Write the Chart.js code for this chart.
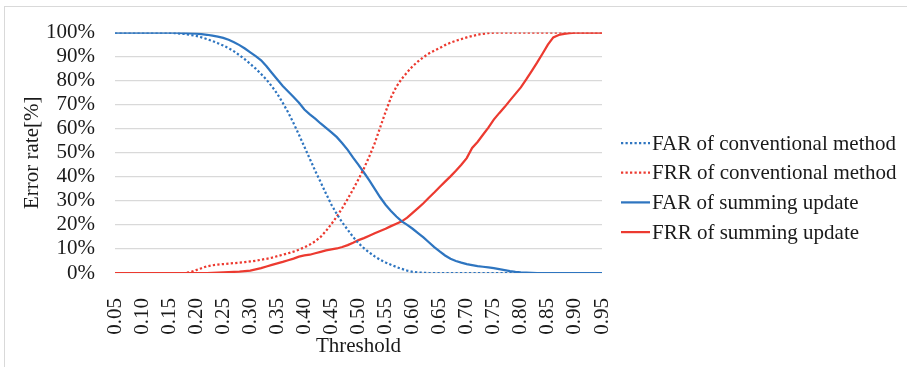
<html>
<head>
<script src="https://cdn.jsdelivr.net/npm/chart.js@4.4.0/dist/chart.umd.min.js"></script>
<style>
  body { margin: 0; background: #fff; }
  #frame { position: absolute; left: 4px; top: 6px; width: 910px; height: 370px; border: 1px solid #d9d9d9; }
  #wrap { position: absolute; left: 0; top: 0; width: 907px; height: 367px; }
</style>
</head>
<body>
<div id="frame"></div>
<div id="wrap"><canvas id="line-chart" width="907" height="367"></canvas></div>

<script>
// thresholds 0.05 .. 0.95 in steps of 0.01
var thresholds = []
for (var i = 5; i <= 95; i++) thresholds.push(i / 100)

var seriesNames = ["FAR of conventional method", "FRR of conventional method", "FAR of summing update", "FRR of summing update"]

var farConv = [100,100,100,100,100,100,100,100,100,100,100,
  99.8,99.6,99.4,99.0,98.6, 98.0,97.3,96.5,95.6,94.6, 93.5,92.2,90.6,88.9,87.0,
  85.0,82.8,80.4,77.6,74.5, 70.8,66.8,62.3,57.5,52.5, 47.5,42.5,37.8,33.0,28.4,
  24.5,21.0,18.0,15.0,12.4, 10.3,8.5,6.9,5.5,4.4, 3.4,2.5,1.7,1.0,0.5,
  0.2,0.1,0,0,0, 0,0,0,0,0, 0,0,0,0,0, 0,0,0,0,0, 0,0,0,0,0, 0,0,0,0,0, 0,0,0,0,0]

var frrConv = [0,0,0,0,0,0,0,0,0,0,0,
  0,0,0,0.4,1.2, 2.0,2.8,3.2,3.5,3.7, 3.9,4.1,4.3,4.5,4.8,
  5.1,5.5,5.9,6.4,7.0, 7.6,8.2,8.9,9.7,10.7, 11.8,13.2,15.0,17.5,20.4,
  23.5,27.0,30.8,34.8,39.0, 43.5,48.5,54.0,60.5,67.0, 73.0,77.5,80.8,83.5,86.0,
  88.0,89.8,91.3,92.5,93.6, 94.8,95.8,96.6,97.3,98.0, 98.6,99.1,99.5,99.8,100,
  100,100,100,100,100, 100,100,100,100,100, 100,100,100,100,100, 100,100,100,100,100]

var farSum = [100,100,100,100,100,100,100,100,100,100,100,
  100,99.9,99.8,99.7,99.6, 99.4,99.1,98.7,98.3,97.8, 97.0,96.0,94.8,93.4,91.8,
  90.2,88.5,86.0,83.2,80.5, 77.8,75.5,73.2,70.8,68.0, 66.0,64.2,62.2,60.4,58.5,
  56.5,54.0,51.2,48.0,45.0, 41.8,38.5,35.0,31.5,28.4, 25.8,23.5,21.5,20.0,18.4,
  16.6,14.8,12.8,10.8,9.0, 7.3,5.9,5.0,4.3,3.7, 3.3,2.9,2.6,2.3,2.0,
  1.6,1.2,0.8,0.5,0.3, 0.2,0.1,0,0,0, 0,0,0,0,0, 0,0,0,0,0]

var frrSum = [0,0,0,0,0,0,0,0,0,0,0,
  0,0,0,0,0, 0,0,0.1,0.2,0.3, 0.4,0.5,0.6,0.8,1.0,
  1.5,2.0,2.7,3.4,4.0, 4.6,5.3,6.0,6.8,7.3, 7.6,8.2,8.8,9.4,9.8,
  10.2,10.8,11.6,12.6,13.7, 14.5,15.5,16.5,17.5,18.4, 19.5,20.5,21.5,23.0,25.0,
  27.0,29.0,31.3,33.5,35.8, 38.0,40.2,42.5,45.0,47.8, 52.0,54.5,57.5,60.5,63.8,
  66.5,69.0,71.8,74.5,77.2, 80.5,84.0,87.5,91.2,95.0, 98.0,99.0,99.5,99.8,100,
  100,100,100,100,100]

var BLUE = "#2E75C0"
var RED = "#EC3A30"
var FONT = "'Liberation Serif', 'Times New Roman', serif"

function toPoints(values){
  return values.map(function(v, i){ return {x: thresholds[i], y: v} })
}

function makeSet(label, values, color, dotted){
  return {
    label: label,
    data: toPoints(values),
    borderColor: color,
    backgroundColor: color,
    borderWidth: 2.25,
    borderDash: dotted ? [2.25, 2.25] : [],
    borderCapStyle: "butt",
    pointRadius: 0,
    tension: 0,
    fill: false
  }
}

// legend drawn by hand on the right
var sideLegend = {
  id: "sideLegend",
  afterDraw: function(chart){
    var ctx = chart.ctx
    var sets = chart.data.datasets
    ctx.save()
    ctx.font = "21px " + FONT
    ctx.textBaseline = "middle"
    ctx.fillStyle = "#1a1a1a"
    for (var k = 0; k < sets.length; k++){
      var y = 143 + k * 29.7
      ctx.beginPath()
      ctx.strokeStyle = sets[k].borderColor
      ctx.lineWidth = sets[k].borderWidth
      ctx.setLineDash(sets[k].borderDash)
      ctx.moveTo(621, y)
      ctx.lineTo(650, y)
      ctx.stroke()
      ctx.setLineDash([])
      ctx.fillText(sets[k].label, 652, y + 1)
    }
    ctx.restore()
  }
}

var myChart = new Chart(document.getElementById("line-chart"), {
  type: "line",
  data: {
    datasets: [
      makeSet(seriesNames[0], farConv, BLUE, true),
      makeSet(seriesNames[1], frrConv, RED, true),
      makeSet(seriesNames[2], farSum, BLUE, false),
      makeSet(seriesNames[3], frrSum, RED, false)
    ]
  },
  options: {
    responsive: false,
    animation: false,
    layout: { padding: { left: 0, top: 23, right: 305, bottom: 0 } },
    plugins: { legend: { display: false }, tooltip: { enabled: false } },
    scales: {
      x: {
        type: "linear",
        min: 0.05,
        max: 0.95,
        grid: { display: false },
        border: { display: false },
        ticks: {
          stepSize: 0.05,
          autoSkip: false,
          maxRotation: 90,
          minRotation: 90,
          padding: 17,
          color: "#1a1a1a",
          font: { family: FONT, size: 21 },
          callback: function(v){ return Number(v).toFixed(2) }
        },
        title: { display: true, text: "Threshold", color: "#1a1a1a", font: { family: FONT, size: 21 }, padding: { top: 0, bottom: 8 } },
        afterFit: function(s){ s.height = 94 }
      },
      y: {
        min: 0,
        max: 100,
        grid: { color: "#d9d9d9", lineWidth: 1.3, drawTicks: false },
        border: { display: false },
        ticks: {
          stepSize: 10,
          autoSkip: false,
          padding: 20,
          color: "#1a1a1a",
          font: { family: FONT, size: 21 },
          callback: function(v){ return v + "%" }
        },
        title: { display: true, text: "Error rate[%]", color: "#1a1a1a", font: { family: FONT, size: 21 }, padding: { top: 20, bottom: 0 } },
        afterFit: function(s){ s.width = 115 }
      }
    }
  },
  plugins: [sideLegend]
})
</script>
</body>
</html>
